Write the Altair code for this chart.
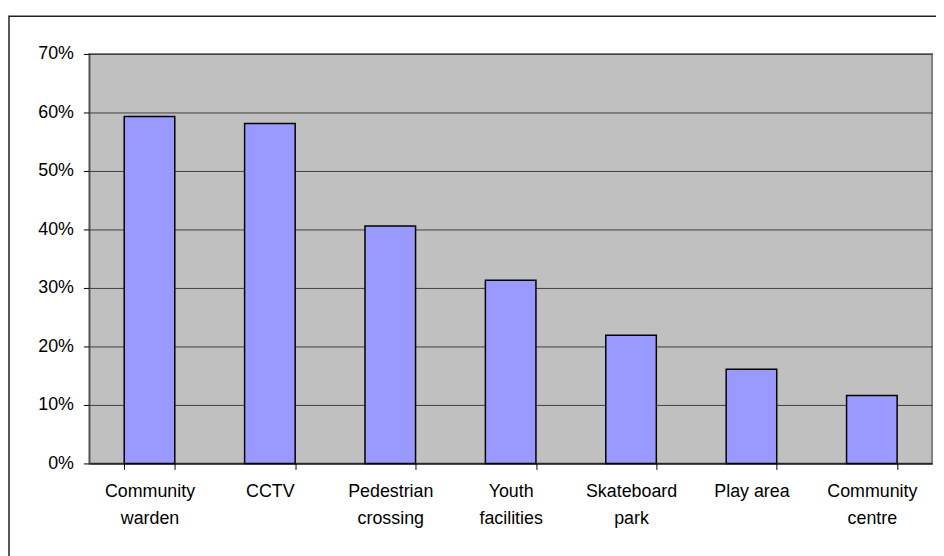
import altair as alt
import pandas as pd

categories = ["Community warden", "CCTV", "Pedestrian crossing", "Youth facilities",
              "Skateboard park", "Play area", "Community centre"]
label_lines = [["Community", "warden"], ["CCTV"], ["Pedestrian", "crossing"],
               ["Youth", "facilities"], ["Skateboard", "park"], ["Play area"],
               ["Community", "centre"]]
values = [0.593, 0.581, 0.406, 0.313, 0.219, 0.161, 0.116]
y_ticks = [0, 0.1, 0.2, 0.3, 0.4, 0.5, 0.6, 0.7]

df = pd.DataFrame({"category": categories, "value": values})

mapping = ", ".join(
    "'" + c + "': [" + ", ".join("'" + l + "'" for l in lines) + "]"
    for c, lines in zip(categories, label_lines)
)
label_expr = "{" + mapping + "}[datum.label]"

FONT = "Liberation Sans"

bars = alt.Chart(df).mark_bar(
    color="#9999FF", stroke="#000000", strokeWidth=1.5
).encode(
    x=alt.X("category:N", sort=categories, title=None,
            scale=alt.Scale(paddingInner=0.58, paddingOuter=0.29),
            axis=alt.Axis(labelAngle=0, labelExpr=label_expr, labelLineHeight=28,
                          labelFontSize=18, labelFont=FONT, labelColor="#000000",
                          labelPadding=13, tickBand="extent", tickSize=6,
                          tickColor="#000000", domainColor="#000000",
                          domainWidth=1, grid=False, labelBaseline="top")),
    y=alt.Y("value:Q", title=None,
            scale=alt.Scale(domain=[0, 0.7], nice=False),
            axis=alt.Axis(values=y_ticks, format=".0%", labelFontSize=18,
                          labelFont=FONT, labelColor="#000000", labelPadding=10,
                          tickSize=6, tickColor="#000000", domainColor="#404040",
                          gridColor="#404040", gridWidth=1, grid=True)),
)

border = alt.Chart(pd.DataFrame({"a": [0]})).mark_rect(
    fillOpacity=0, stroke="#222222", strokeWidth=1.5, clip=False
).encode(
    x=alt.value(-81), x2=alt.value(900), y=alt.value(-38), y2=alt.value(560)
)

chart = alt.layer(bars, border).properties(
    width=850, height=413,
    background="#FFFFFF",
    padding={"left": 82, "top": 44, "right": 4, "bottom": 91},
    autosize=alt.AutoSizeParams(type="none"),
).configure_view(
    fill="#C0C0C0", stroke="#808080", strokeWidth=2
)

chart.save("out.html", embed_options={"renderer": "svg", "actions": False})
